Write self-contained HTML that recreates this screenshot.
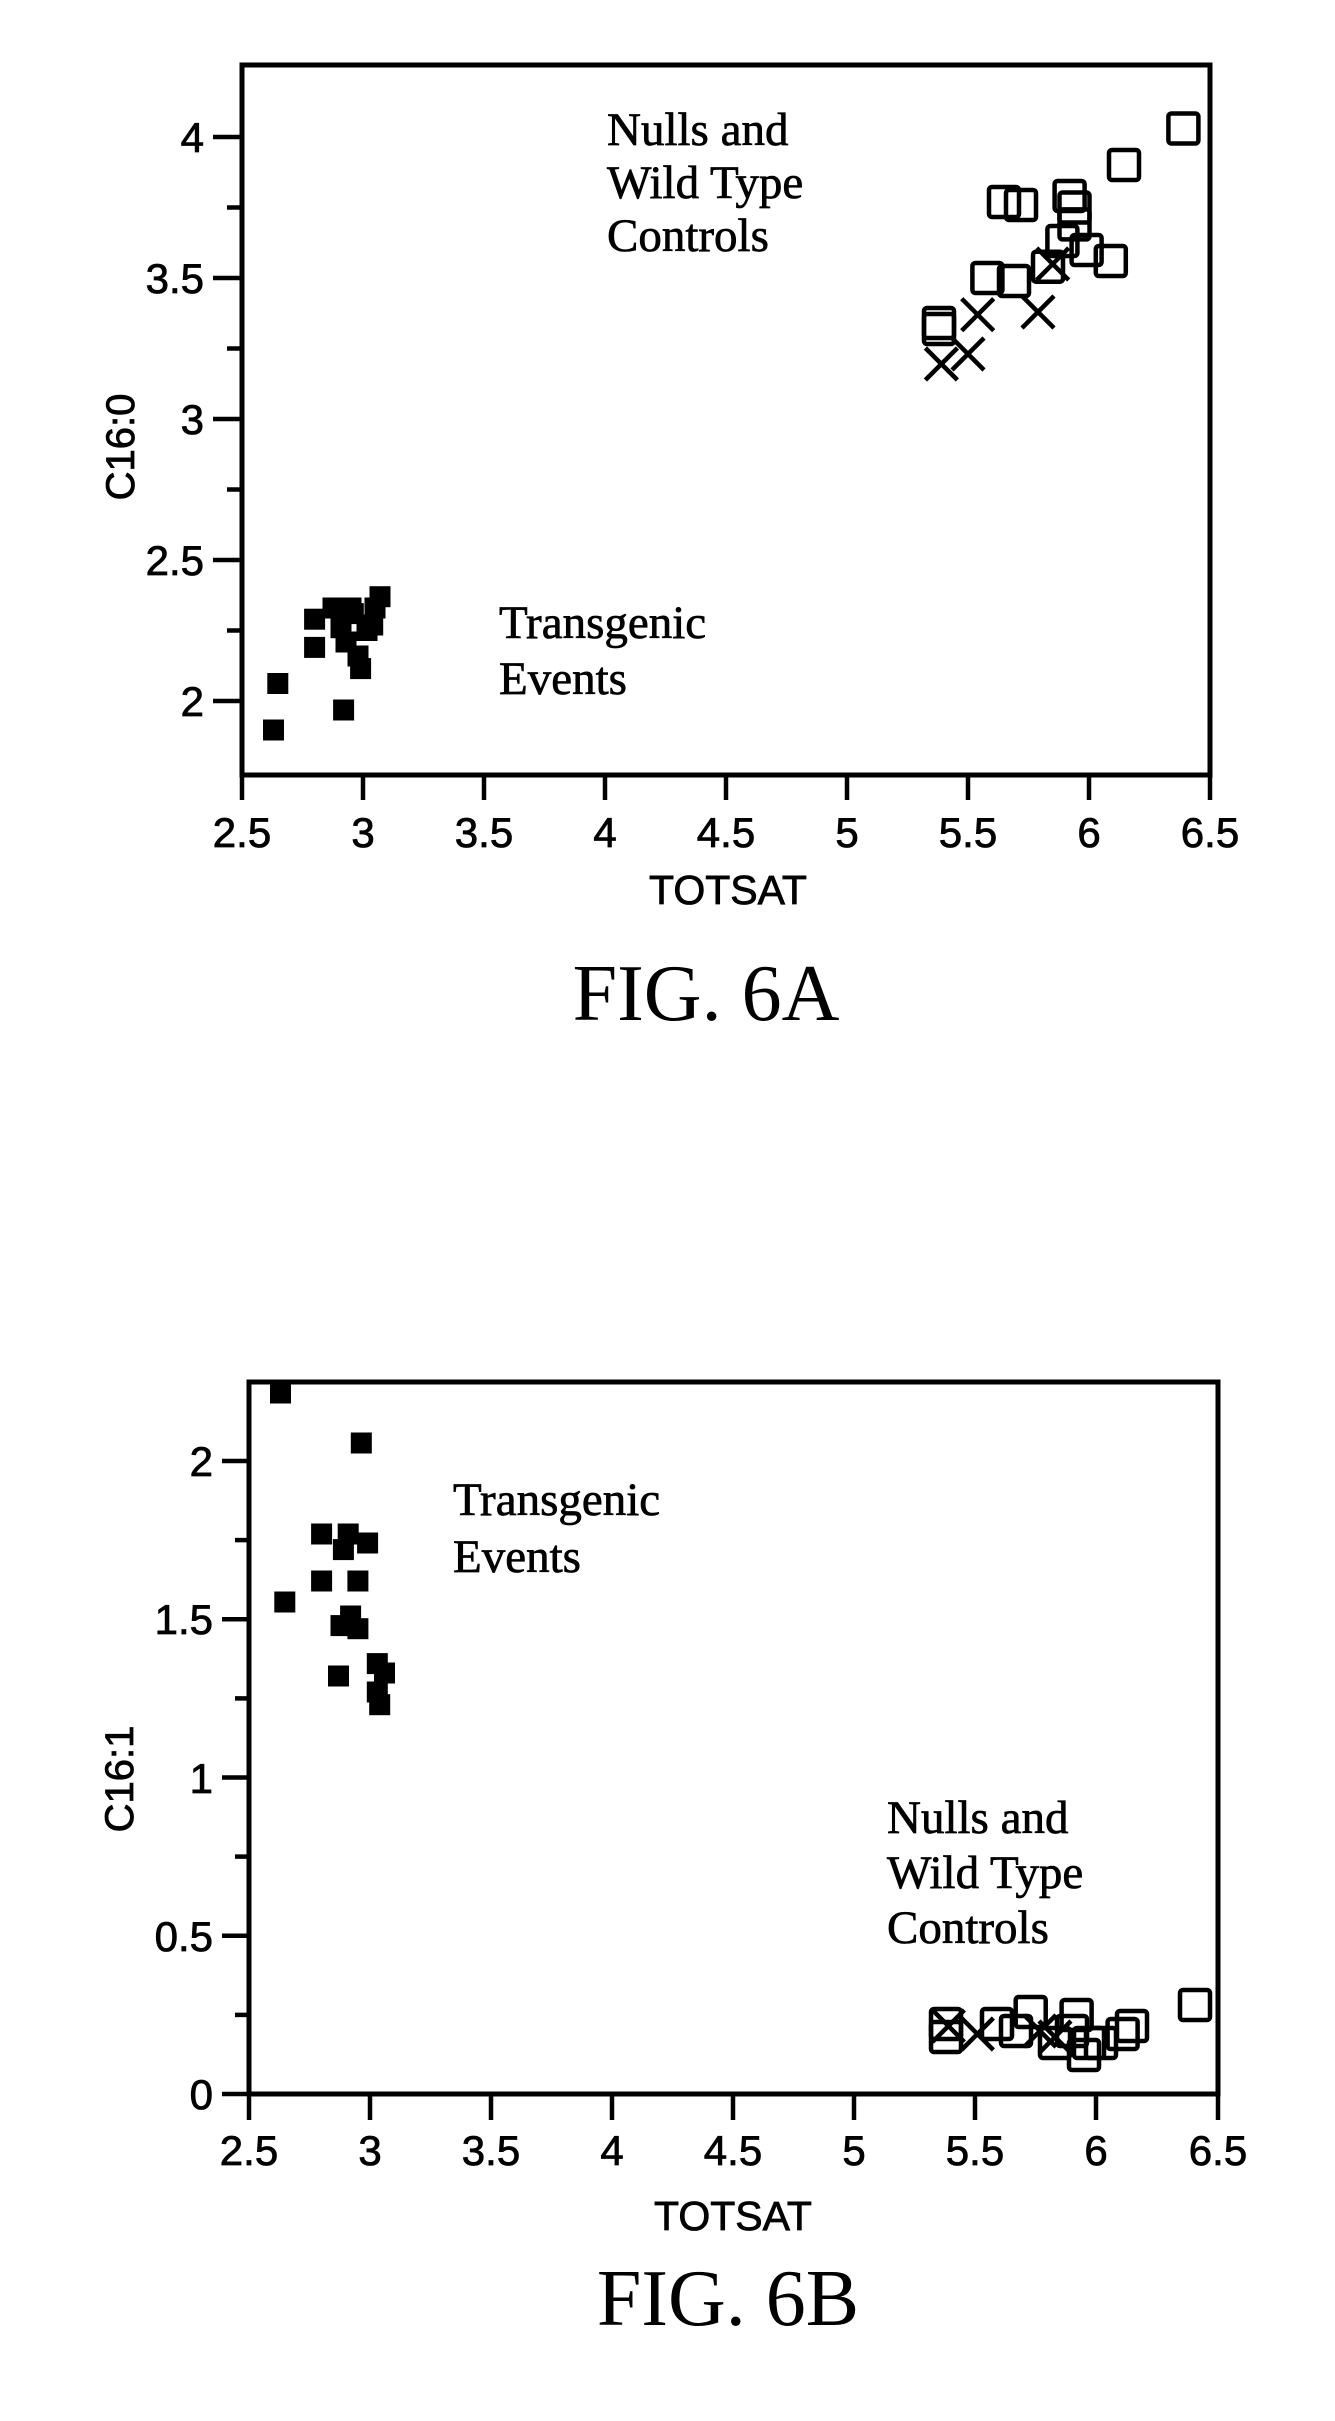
<!DOCTYPE html>
<html><head><meta charset="utf-8"><style>html,body{margin:0;padding:0;background:#fff}svg{display:block}</style></head>
<body>
<svg width="1335" height="2421" viewBox="0 0 1335 2421" xmlns="http://www.w3.org/2000/svg">
<defs>
<rect id="f" x="-10.5" y="-10.5" width="21" height="21" fill="#000"/>
<rect id="o" x="-15" y="-15" width="30" height="30" rx="3" fill="none" stroke="#000" stroke-width="4.5"/>
<path id="x" d="M-16,-16L16,16M-16,16L16,-16" stroke="#000" stroke-width="4.5" fill="none"/>
</defs>
<g font-family="Liberation Sans, Arial, sans-serif" font-size="42" fill="#000" stroke="#000" stroke-width="0.8">
<!-- Plot A -->
<rect x="242" y="65" width="968" height="710" fill="none" stroke="#000" stroke-width="5"/>
<g stroke="#000" stroke-width="4.5">
<line x1="242" y1="775" x2="242" y2="800"/><line x1="363" y1="775" x2="363" y2="800"/><line x1="484" y1="775" x2="484" y2="800"/><line x1="605" y1="775" x2="605" y2="800"/><line x1="726" y1="775" x2="726" y2="800"/><line x1="847" y1="775" x2="847" y2="800"/><line x1="968" y1="775" x2="968" y2="800"/><line x1="1089" y1="775" x2="1089" y2="800"/><line x1="1210" y1="775" x2="1210" y2="800"/>
<line x1="213" y1="137" x2="242" y2="137"/><line x1="213" y1="278" x2="242" y2="278"/><line x1="213" y1="419" x2="242" y2="419"/><line x1="213" y1="560" x2="242" y2="560"/><line x1="213" y1="701" x2="242" y2="701"/>
<line x1="227" y1="207.5" x2="242" y2="207.5"/><line x1="227" y1="348.5" x2="242" y2="348.5"/><line x1="227" y1="489.5" x2="242" y2="489.5"/><line x1="227" y1="630.5" x2="242" y2="630.5"/>
</g>
<g text-anchor="middle">
<text x="242" y="847">2.5</text><text x="363" y="847">3</text><text x="484" y="847">3.5</text><text x="605" y="847">4</text><text x="726" y="847">4.5</text><text x="847" y="847">5</text><text x="968" y="847">5.5</text><text x="1089" y="847">6</text><text x="1210" y="847">6.5</text>
</g>
<g text-anchor="end">
<text x="204" y="152">4</text><text x="204" y="293">3.5</text><text x="204" y="434">3</text><text x="204" y="575">2.5</text><text x="204" y="716">2</text>
</g>
<text x="728" y="904" text-anchor="middle" font-size="41">TOTSAT</text>
<text transform="translate(134,447) rotate(-90)" text-anchor="middle" font-size="40">C16:0</text>

<!-- Plot B -->
<rect x="249" y="1382" width="969" height="712" fill="none" stroke="#000" stroke-width="5"/>
<g stroke="#000" stroke-width="4.5">
<line x1="249" y1="2094" x2="249" y2="2120"/><line x1="370" y1="2094" x2="370" y2="2120"/><line x1="491" y1="2094" x2="491" y2="2120"/><line x1="612" y1="2094" x2="612" y2="2120"/><line x1="733" y1="2094" x2="733" y2="2120"/><line x1="854" y1="2094" x2="854" y2="2120"/><line x1="975" y1="2094" x2="975" y2="2120"/><line x1="1096" y1="2094" x2="1096" y2="2120"/><line x1="1218" y1="2094" x2="1218" y2="2120"/>
<line x1="222" y1="2094" x2="249" y2="2094"/><line x1="222" y1="1935.75" x2="249" y2="1935.75"/><line x1="222" y1="1777.5" x2="249" y2="1777.5"/><line x1="222" y1="1619.25" x2="249" y2="1619.25"/><line x1="222" y1="1461" x2="249" y2="1461"/>
<line x1="235" y1="2014.9" x2="249" y2="2014.9"/><line x1="235" y1="1856.6" x2="249" y2="1856.6"/><line x1="235" y1="1698.4" x2="249" y2="1698.4"/><line x1="235" y1="1540.1" x2="249" y2="1540.1"/>
</g>
<g text-anchor="middle">
<text x="249" y="2165">2.5</text><text x="370" y="2165">3</text><text x="491" y="2165">3.5</text><text x="612" y="2165">4</text><text x="733" y="2165">4.5</text><text x="854" y="2165">5</text><text x="975" y="2165">5.5</text><text x="1096" y="2165">6</text><text x="1218" y="2165">6.5</text>
</g>
<g text-anchor="end">
<text x="213" y="2109">0</text><text x="213" y="1951">0.5</text><text x="213" y="1793">1</text><text x="213" y="1634">1.5</text><text x="213" y="1476">2</text>
</g>
<text x="733" y="2230" text-anchor="middle" font-size="41">TOTSAT</text>
<text transform="translate(133,1779) rotate(-90)" text-anchor="middle" font-size="40">C16:1</text>
</g>

<g font-family="Liberation Serif, Times New Roman, serif" fill="#000">
<g font-size="47" stroke="#000" stroke-width="0.7">
<text x="607" y="145">Nulls and</text><text x="607" y="198">Wild Type</text><text x="607" y="251">Controls</text>
<text x="499" y="638">Transgenic</text><text x="499" y="694">Events</text>
<text x="453" y="1515">Transgenic</text><text x="453" y="1572">Events</text>
<text x="887" y="1833">Nulls and</text><text x="887" y="1888">Wild Type</text><text x="887" y="1943">Controls</text>
</g>
<text x="706" y="1020" text-anchor="middle" font-size="80">FIG. 6A</text>
<text x="728" y="2325" text-anchor="middle" font-size="80">FIG. 6B</text>
</g>

<!-- A markers -->
<g>
<use href="#f" x="273.5" y="730"/><use href="#f" x="277.8" y="683.5"/><use href="#f" x="314.6" y="647.4"/><use href="#f" x="314.6" y="619.2"/><use href="#f" x="333" y="608"/><use href="#f" x="346" y="642"/><use href="#f" x="353.3" y="613.6"/><use href="#f" x="358" y="656"/><use href="#f" x="360.6" y="668.6"/><use href="#f" x="367" y="630.5"/><use href="#f" x="375" y="608"/><use href="#f" x="380" y="596.7"/><use href="#f" x="372.7" y="625"/><use href="#f" x="343.6" y="710"/><use href="#f" x="341" y="627.7"/><use href="#f" x="351" y="608"/>
<use href="#o" x="1183.4" y="128.5"/><use href="#o" x="1124" y="165"/><use href="#o" x="1004" y="202"/><use href="#o" x="1021" y="205"/><use href="#o" x="1069.6" y="196"/><use href="#o" x="1074.5" y="207.5"/><use href="#o" x="1074.5" y="224.4"/><use href="#o" x="1062.4" y="241"/><use href="#o" x="1086.6" y="250"/><use href="#o" x="1110.8" y="261"/><use href="#o" x="987.4" y="278"/><use href="#o" x="1014" y="281"/><use href="#o" x="1048" y="266.7"/><use href="#o" x="939" y="323"/><use href="#o" x="939" y="329"/>
<use href="#x" x="941.4" y="364"/><use href="#x" x="968" y="354"/><use href="#x" x="977.7" y="314.7"/><use href="#x" x="1038" y="312"/><use href="#x" x="1052.7" y="264"/>
</g>
<!-- B markers -->
<g>
<use href="#f" x="280.5" y="1393"/><use href="#f" x="284.8" y="1602"/><use href="#f" x="361.3" y="1443"/><use href="#f" x="321.6" y="1534"/><use href="#f" x="321.6" y="1581"/><use href="#f" x="348.2" y="1534"/><use href="#f" x="343.4" y="1549.6"/><use href="#f" x="367.6" y="1543"/><use href="#f" x="357.9" y="1581"/><use href="#f" x="350.6" y="1616"/><use href="#f" x="341" y="1625.6"/><use href="#f" x="357.9" y="1628.7"/><use href="#f" x="338.5" y="1676"/><use href="#f" x="377.3" y="1663.6"/><use href="#f" x="384.5" y="1673"/><use href="#f" x="377.3" y="1692"/><use href="#f" x="379.7" y="1704.7"/>
<use href="#o" x="1195" y="2005"/><use href="#o" x="1132" y="2026"/><use href="#o" x="1122.6" y="2034"/><use href="#o" x="1076.6" y="2015"/><use href="#o" x="1030.7" y="2012"/><use href="#o" x="1016" y="2031"/><use href="#o" x="997" y="2024"/><use href="#o" x="946" y="2037"/><use href="#o" x="946" y="2024"/><use href="#o" x="1055" y="2043"/><use href="#o" x="1084" y="2055"/><use href="#o" x="1089" y="2043"/><use href="#o" x="1101" y="2043"/><use href="#o" x="1072" y="2031"/>
<use href="#x" x="948.4" y="2026"/><use href="#x" x="977.4" y="2034"/><use href="#x" x="1040" y="2031"/><use href="#x" x="1055" y="2037"/>
</g>
</svg>
</body></html>
